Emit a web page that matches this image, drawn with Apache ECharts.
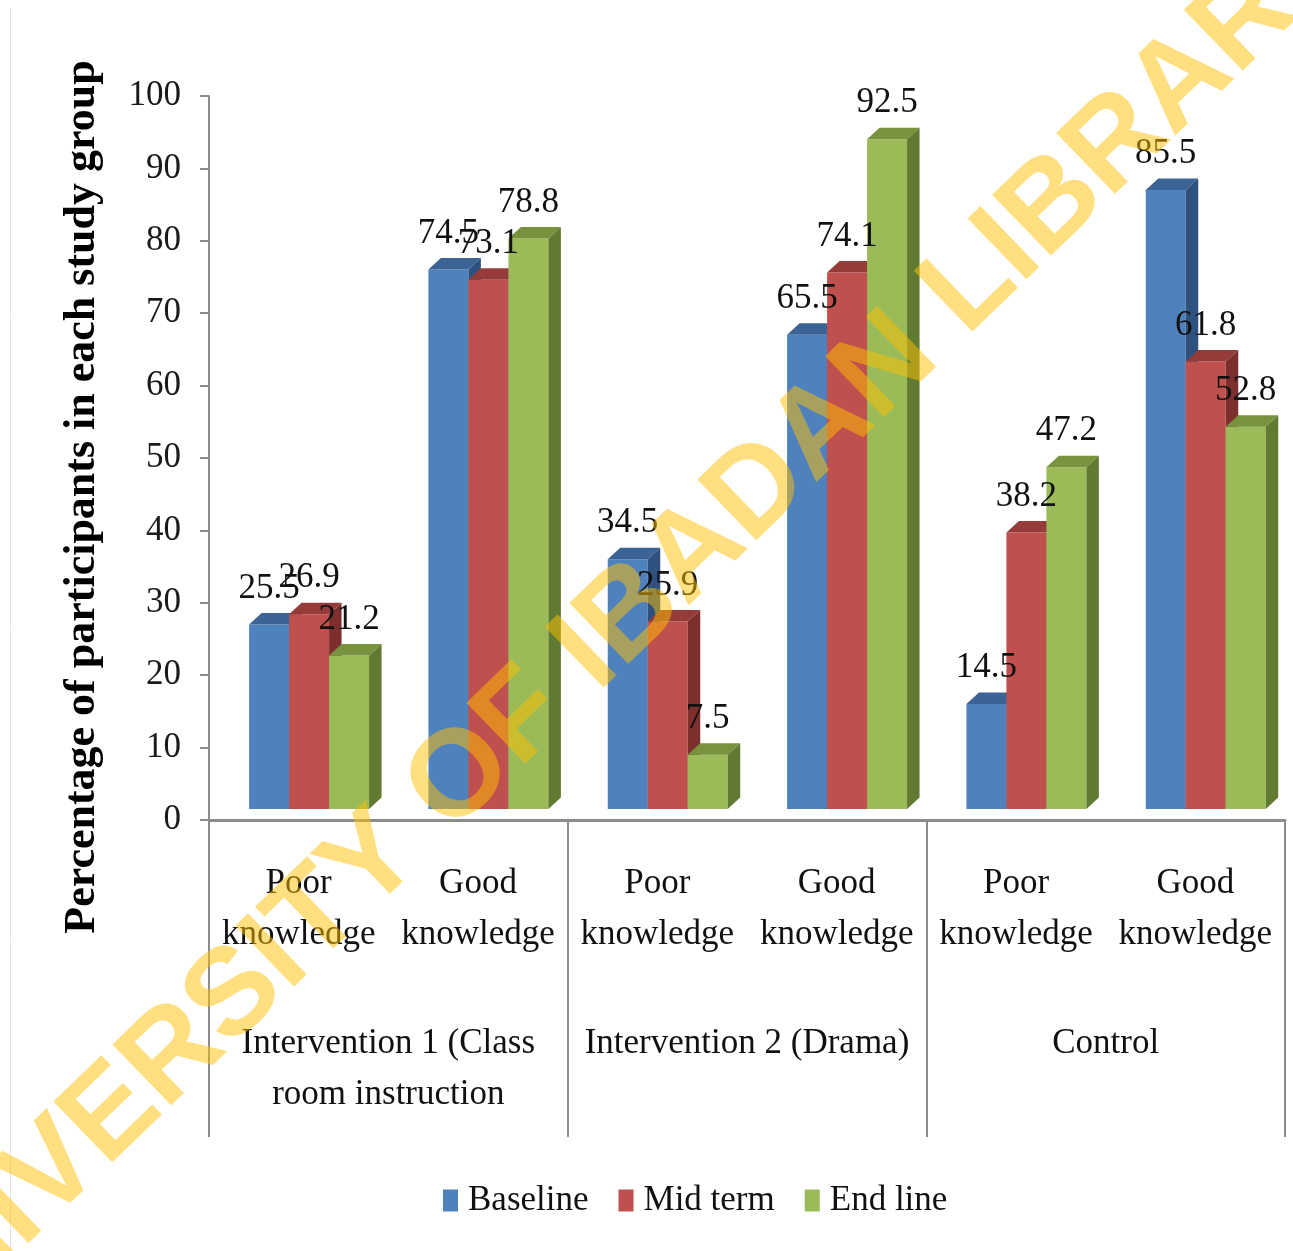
<!DOCTYPE html>
<html>
<head>
<meta charset="utf-8">
<script src="https://cdn.jsdelivr.net/npm/echarts@6/dist/echarts.min.js"></script>
<style>
  html, body { margin: 0; padding: 0; background: #ffffff; }
  #chart { width: 1293px; height: 1251px; }
</style>
</head>
<body>
<div id="chart"></div>
<script>
// Knowledge level per study group (inner axis) and the study groups (outer axis)
const knowledgeLevels = [
  'Poor\nknowledge', 'Good\nknowledge',
  'Poor\nknowledge', 'Good\nknowledge',
  'Poor\nknowledge', 'Good\nknowledge'
];
const studyGroups = [
  'Intervention 1 (Class\nroom instruction',
  'Intervention 2 (Drama)',
  'Control'
];

// Percentage of participants at each assessment
const seriesNames = ['Baseline', 'Mid term', 'End line'];
const baseline = [25.5, 74.5, 34.5, 65.5, 14.5, 85.5];
const midTerm  = [26.9, 73.1, 25.9, 74.1, 38.2, 61.8];
const endLine  = [21.2, 78.8, 7.5, 92.5, 47.2, 52.8];
const seriesValues = [baseline, midTerm, endLine];

// Value axis range
const yMin = 0, yMax = 100, yStep = 10;

// Face colours for the extruded bars: front, top, side
const palette = [
  { front: '#4F81BD', top: '#3B6396', side: '#2F5180' },
  { front: '#C0504D', top: '#953C3A', side: '#7C2F2D' },
  { front: '#9BBB59', top: '#77933D', side: '#617A32' }
];

const SERIF = '"Liberation Serif", "Times New Roman", serif';
const BAR_FRAC = 0.223;    // bar width as a share of the category band
const SHIFT_FRAC = 0.058;  // bar cluster offset to the right of band centre
const DEPTH_X = 12.5;      // extrusion depth, horizontal
const DEPTH_Y = 11.5;      // extrusion depth, vertical
const LIFT = 11;           // front faces sit slightly above the floor line

function makeRenderer(s) {
  const c = palette[s];
  return function (params, api) {
    const i = api.value(0);
    const v = api.value(1);
    const band = api.size([1, 0])[0];
    const base = api.coord([i, 0]);
    const top = api.coord([i, v]);
    const w = band * BAR_FRAC;
    const x0 = base[0] + band * SHIFT_FRAC - 1.5 * w + s * w;
    const x1 = x0 + w;
    const yb = base[1] - LIFT;
    const yt = top[1] - LIFT;
    const zb = s * 3;
    return {
      type: 'group',
      children: [
        {
          type: 'rect', z2: zb,
          shape: { x: x0, y: yt, width: w, height: yb - yt },
          style: { fill: c.front }
        },
        {
          type: 'polygon', z2: zb + 1,
          shape: { points: [[x0, yt], [x0 + DEPTH_X, yt - DEPTH_Y], [x1 + DEPTH_X, yt - DEPTH_Y], [x1, yt]] },
          style: { fill: c.top }
        },
        {
          type: 'polygon', z2: zb + 2,
          shape: { points: [[x1, yt], [x1 + DEPTH_X, yt - DEPTH_Y], [x1 + DEPTH_X, yb - DEPTH_Y], [x1, yb]] },
          style: { fill: c.side }
        },
        {
          type: 'text', z2: 100,
          style: {
            text: String(v),
            x: (x0 + x1) / 2,
            y: yt - 36,
            align: 'center',
            verticalAlign: 'middle',
            textAlign: 'center',
            textVerticalAlign: 'middle',
            fontSize: 35,
            fontFamily: SERIF,
            fill: '#111111'
          }
        }
      ]
    };
  };
}

const series = seriesNames.map((name, s) => ({
  name: name,
  type: 'custom',
  xAxisIndex: 0,
  yAxisIndex: 0,
  itemStyle: { color: palette[s].front },
  encode: { x: 0, y: 1 },
  data: seriesValues[s].map((v, i) => [i, v]),
  renderItem: makeRenderer(s)
}));

const chart = echarts.init(document.getElementById('chart'), null, { renderer: 'canvas' });

chart.setOption({
  backgroundColor: '#ffffff',
  animation: false,
  grid: { left: 209, right: 8, top: 96, bottom: 431, containLabel: false },
  legend: {
    data: seriesNames,
    left: 443,
    top: 1183,
    padding: 0,
    icon: 'rect',
    itemWidth: 15,
    itemHeight: 22,
    itemGap: 30,
    textStyle: { fontSize: 35, fontFamily: SERIF, color: '#111111', padding: [0, 0, 0, 5] }
  },
  xAxis: [
    {
      type: 'category',
      data: knowledgeLevels,
      position: 'bottom',
      axisLine: { show: true, lineStyle: { color: '#8C8C8C', width: 3 } },
      axisTick: { show: false },
      splitLine: { show: false },
      axisLabel: {
        interval: 0,
        margin: 38,
        fontSize: 35,
        lineHeight: 51,
        fontFamily: SERIF,
        color: '#111111'
      }
    },
    {
      type: 'category',
      data: studyGroups,
      position: 'bottom',
      axisLine: { show: false },
      axisTick: { show: true, length: 317, lineStyle: { color: '#8C8C8C', width: 2 } },
      splitLine: { show: false },
      axisLabel: {
        interval: 0,
        margin: 198,
        fontSize: 35,
        lineHeight: 51,
        fontFamily: SERIF,
        color: '#111111'
      }
    }
  ],
  yAxis: {
    type: 'value',
    min: yMin,
    max: yMax,
    interval: yStep,
    name: 'Percentage of participants in each study group',
    nameLocation: 'middle',
    nameRotate: 90,
    nameGap: 104,
    nameTextStyle: {
      fontSize: 44,
      fontWeight: 'bold',
      fontFamily: SERIF,
      color: '#000000',
      padding: [0, 78, 0, 0]
    },
    axisLine: { show: true, lineStyle: { color: '#8C8C8C', width: 2 } },
    axisTick: { show: true, length: 9, lineStyle: { color: '#8C8C8C', width: 2 } },
    splitLine: { show: false },
    axisLabel: { margin: 28, fontSize: 35, fontFamily: SERIF, color: '#1A1A1A' }
  },
  graphic: [
    {
      type: 'line',
      z: 0,
      shape: { x1: 10.5, y1: 8, x2: 10.5, y2: 1251 },
      style: { stroke: '#E4E4E4', lineWidth: 1 }
    },
    {
      type: 'text',
      z: 100,
      x: 602,
      y: 642,
      rotation: 44 * Math.PI / 180,
      style: {
        text: 'UNIVERSITY OF IBADAN LIBRARY',
        fontSize: 123,
        fontWeight: 'bold',
        fontFamily: '"Liberation Sans", Arial, sans-serif',
        fill: 'rgba(255, 192, 0, 0.5)',
        align: 'center',
        verticalAlign: 'middle'
      }
    }
  ],
  series: series
});
</script>
</body>
</html>
